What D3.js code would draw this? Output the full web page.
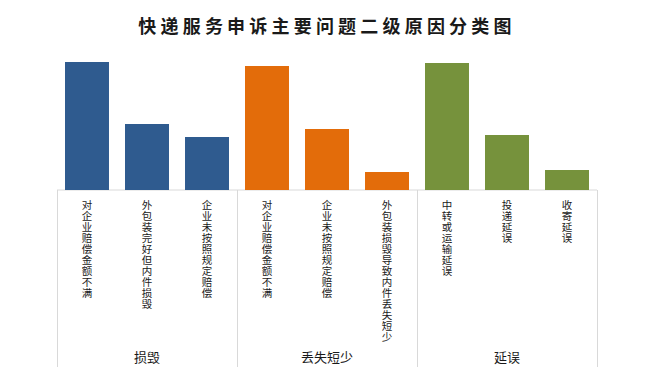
<!DOCTYPE html>
<html>
<head>
<meta charset="utf-8">
<script src="https://cdn.jsdelivr.net/npm/d3@7"></script>
<style>
  body { margin: 0; background: #fff; }
  svg { display: block; }
  text { font-family: "Noto Sans CJK SC", sans-serif; fill: #1a1a1a; }
</style>
</head>
<body>
<div id="chart"></div>
<script>
// chart data
var groups = ["损毁", "丢失短少", "延误"];
var labels = [
    ["对企业赔偿金额不满", "外包装完好但内件损毁", "企业未按照规定赔偿"],
    ["对企业赔偿金额不满", "企业未按照规定赔偿", "外包装损毁导致内件丢失短少"],
    ["中转或运输延误", "投递延误", "收寄延误"]
];
var values = [
    [128, 66, 53],
    [124, 61, 18],
    [127, 55, 20]
];
var colors = ["#2f5b8f", "#e36c0a", "#76923c"];
var title = "快递服务申诉主要问题二级原因分类图";

var width = 649, height = 386;
var margin = {top: 62, left: 57, right: 52},
    baseY = 190,
    bottomY = 367;

var svg = d3.select("#chart").append("svg")
    .attr("width", width)
    .attr("height", height);

var x0 = d3.scaleBand()
    .domain(groups)
    .range([margin.left, width - margin.right]);

var x1 = d3.scaleBand()
    .domain([0, 1, 2])
    .range([0, x0.bandwidth()])
    .paddingInner(0.267)
    .paddingOuter(0.1333);

var y = d3.scaleLinear()
    .domain([0, 128])
    .range([baseY, margin.top]);

// title
svg.append("text")
    .attr("x", 327)
    .attr("y", 33)
    .attr("text-anchor", "middle")
    .style("font-size", "18px")
    .style("font-weight", "bold")
    .style("letter-spacing", "4.2px")
    .text(title);

// axis line and group separators
svg.append("line")
    .attr("x1", x0.range()[0]).attr("x2", x0.range()[1])
    .attr("y1", baseY).attr("y2", baseY)
    .attr("stroke", "#d9d9d9");

var seps = groups.map(function (g) { return x0(g); }).concat([x0.range()[1]]);
svg.selectAll(".sep")
    .data(seps)
    .enter().append("line")
    .attr("class", "sep")
    .attr("x1", function (d) { return d + 0.5; })
    .attr("x2", function (d) { return d + 0.5; })
    .attr("y1", baseY)
    .attr("y2", bottomY)
    .attr("stroke", "#d9d9d9");

var g = svg.selectAll(".grp")
    .data(groups)
    .enter().append("g")
    .attr("class", "grp")
    .attr("transform", function (d) { return "translate(" + x0(d) + ",0)"; });

g.selectAll("rect")
    .data(function (d, i) {
        return values[i].map(function (v, j) { return {v: v, j: j, c: colors[i]}; });
    })
    .enter().append("rect")
    .attr("x", function (d) { return x1(d.j); })
    .attr("width", x1.bandwidth())
    .attr("y", function (d) { return y(d.v); })
    .attr("height", function (d) { return baseY - y(d.v); })
    .attr("fill", function (d) { return d.c; });

// vertical category labels (top-to-bottom writing)
g.each(function (grp, i) {
    var gg = d3.select(this);
    gg.selectAll(".cat")
        .data(labels[i])
        .enter().append("text")
        .attr("class", "cat")
        .attr("x", function (d, j) { return x1(j) + x1.bandwidth() / 2; })
        .attr("y", 200)
        .style("writing-mode", "vertical-rl")
        .style("text-orientation", "upright")
        .style("font-size", "10.5px")
        .style("letter-spacing", "0.5px")
        .text(function (d) { return d; });
    gg.append("text")
        .attr("x", x0.bandwidth() / 2)
        .attr("y", 362)
        .attr("text-anchor", "middle")
        .style("font-size", "13px")
        .text(grp);
});
</script>
</body>
</html>
